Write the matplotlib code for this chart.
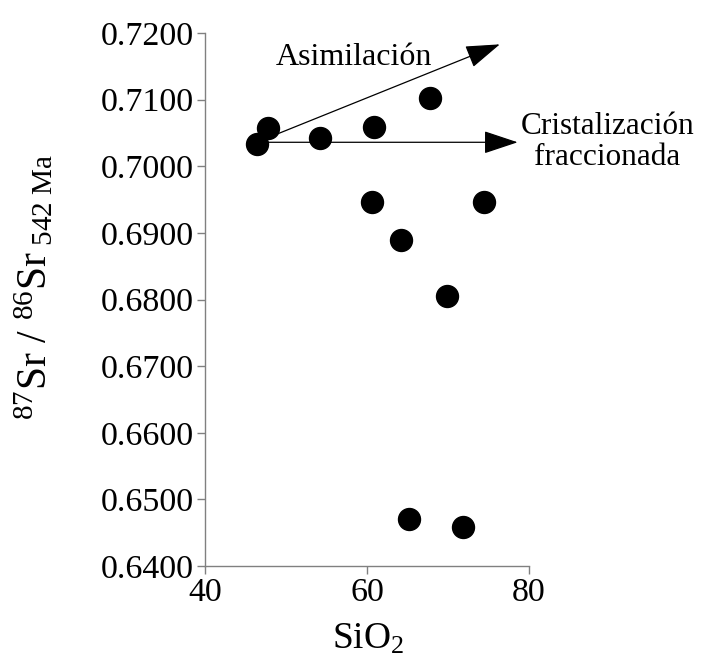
import matplotlib
matplotlib.use('Agg')
import matplotlib.pyplot as plt

plt.rcParams['font.family'] = 'Liberation Serif'
plt.rcParams['mathtext.fontset'] = 'custom'
plt.rcParams['mathtext.rm'] = 'Liberation Serif'
plt.rcParams['mathtext.it'] = 'Liberation Serif:italic'

# SiO2 vs 87Sr/86Sr (542 Ma)
sio2 = [46.4, 47.8, 54.2, 60.9, 67.8, 60.6, 74.4, 64.2, 69.9, 65.2, 71.8]
sr_ratio = [0.7034, 0.7058, 0.7042, 0.7059, 0.7102, 0.6947, 0.6947, 0.6889, 0.6806, 0.6470, 0.6459]

# trend arrows (start, end)
asim_start = (47.2, 0.7040)
asim_end = (76.4, 0.7183)
crist_start = (47.0, 0.7036)
crist_end = (78.6, 0.7036)

xticks = [40, 60, 80]
yticks = [0.64, 0.65, 0.66, 0.67, 0.68, 0.69, 0.70, 0.71, 0.72]

fig = plt.figure(figsize=(7.01, 6.63), dpi=100)
ax = fig.add_axes([0.2924, 0.1463, 0.4622, 0.8039])

ax.scatter(sio2, sr_ratio, s=250, c='black', zorder=3, clip_on=False)

arrow_style = dict(arrowstyle='-|>,head_length=0.6,head_width=0.2', mutation_scale=36,
                   color='black', lw=0.9, shrinkA=0, shrinkB=0)
ax.annotate('', xy=asim_end, xytext=asim_start, arrowprops=arrow_style, annotation_clip=False)
ax.annotate('', xy=crist_end, xytext=crist_start, arrowprops=arrow_style, annotation_clip=False)

ax.text(58.4, 0.7164, 'Asimilación', fontsize=23, ha='center', va='center')
ax.text(89.7, 0.7037, 'Cristalización\nfraccionada', fontsize=22.5, ha='center', va='center',
        linespacing=1.1, clip_on=False)

ax.set_xlim(40, 80)
ax.set_ylim(0.64, 0.72)
ax.set_xticks(xticks)
ax.set_yticks(yticks)
ax.set_yticklabels(['%.4f' % v for v in yticks])

for side in ['top', 'right']:
    ax.spines[side].set_visible(False)
for side in ['left', 'bottom']:
    ax.spines[side].set_color('#808080')
    ax.spines[side].set_linewidth(1.0)
ax.tick_params(direction='out', length=6, width=1.0, color='#808080', labelsize=24.5, pad=2)

fig.text(0.5245, 0.035, r'SiO$_2$', fontsize=27, ha='center', va='center')
fig.text(0.05, 0.567, r'$^{87}$Sr / $^{86}$Sr$_{\ 542\ \mathrm{Ma}}$', fontsize=30,
         rotation=90, ha='center', va='center')

fig.savefig('out.png', dpi=100)
